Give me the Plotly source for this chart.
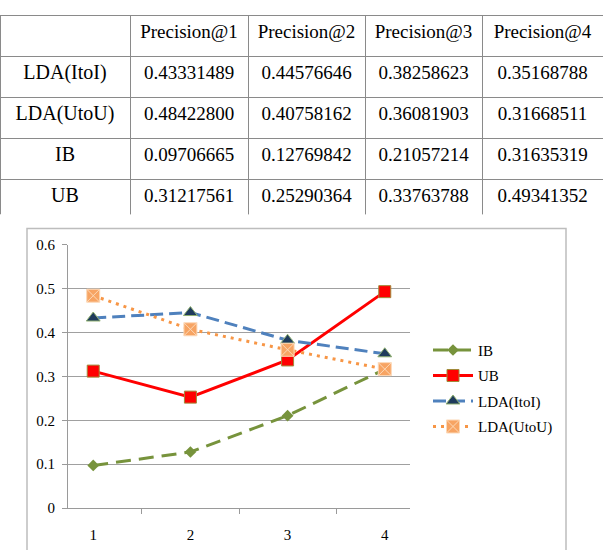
import plotly.graph_objects as go

# ---------------- data ----------------
columns = ["Precision@1", "Precision@2", "Precision@3", "Precision@4"]
x_labels = ["1", "2", "3", "4"]
lda_itoi = [0.43331489, 0.44576646, 0.38258623, 0.35168788]
lda_utou = [0.48422800, 0.40758162, 0.36081903, 0.31668511]
ib = [0.09706665, 0.12769842, 0.21057214, 0.31635319]
ub = [0.31217561, 0.25290364, 0.33763788, 0.49341352]
row_names = ["LDA(ItoI)", "LDA(UtoU)", "IB", "UB"]
y_ticks = [0, 0.1, 0.2, 0.3, 0.4, 0.5, 0.6]

W, H = 603, 550
def px(x):
    return x / W
def py(y):
    return 1 - y / H

FONT = "Liberation Serif, Times New Roman, serif"

rows = [lda_itoi, lda_utou, ib, ub]
cell_cols = [row_names] + [["%.8f" % r[i] for r in rows] for i in range(4)]

fig = go.Figure()

fig.add_trace(go.Table(
    domain=dict(x=[0, 1], y=[py(213), py(7.5)]),
    columnwidth=[130, 118, 117, 117, 121],
    header=dict(values=[""] + columns, height=41, align="center",
                line=dict(color="#8a8a8a", width=1), fill=dict(color="white"),
                font=dict(family=FONT, size=19, color="black")),
    cells=dict(values=cell_cols, height=41, align="center",
               line=dict(color="#8a8a8a", width=1), fill=dict(color="white"),
               font=dict(family=FONT, size=[20, 19, 19, 19, 19], color="black")),
))

traces = [
    dict(y=ib, name="IB",
         line=dict(color="#77933C", width=3, dash="15px,8px"),
         marker=dict(symbol="diamond", size=9, color="#77933C")),
    dict(y=ub, name="UB",
         line=dict(color="#FF0000", width=3),
         marker=dict(symbol="square", size=12, color="#FF0000",
                     line=dict(color="#A08A3A", width=1))),
    dict(y=lda_itoi, name="LDA(ItoI)",
         line=dict(color="#4F81BD", width=3, dash="13px,6px"),
         marker=dict(symbol="triangle-up", size=12, color="#1F3B5C",
                     line=dict(color="#8FB070", width=1))),
    dict(y=lda_utou, name="LDA(UtoU)",
         line=dict(color="#F79646", width=3, dash="3px,5px"),
         marker=dict(symbol="square-x", size=13, color="#F7A463",
                     line=dict(color="#FCD9B8", width=1))),
]
for t in traces:
    fig.add_trace(go.Scatter(x=x_labels, mode="lines+markers",
                             legendgroup=t["name"], **t))

fig.update_layout(
    width=W, height=H,
    margin=dict(l=0, r=0, t=0, b=0),
    paper_bgcolor="white", plot_bgcolor="white",
    font=dict(family=FONT, size=15, color="black"),
    showlegend=True,
    legend=dict(x=px(428), y=py(335.5), xanchor="left", yanchor="top",
                font=dict(family=FONT, size=15, color="black"),
                bgcolor="rgba(0,0,0,0)", itemwidth=40, tracegroupgap=3),
    xaxis=dict(domain=[px(68), px(410)], type="category",
               categoryorder="array", categoryarray=x_labels,
               tickson="boundaries", ticks="outside", ticklen=5,
               tickcolor="#9a9a9a", showline=True, linecolor="#9a9a9a",
               linewidth=1, showgrid=False, zeroline=False,
               ticklabelstandoff=13,
               tickfont=dict(family=FONT, size=15, color="black")),
    yaxis=dict(domain=[py(515), py(244)], range=[0, 0.6],
               tickvals=y_ticks, ticktext=["0", "0.1", "0.2", "0.3", "0.4", "0.5", "0.6"],
               ticks="outside", ticklen=5, tickcolor="#9a9a9a",
               showline=True, linecolor="#9a9a9a", linewidth=1,
               showgrid=True, gridcolor="#a0a0a0", gridwidth=1,
               zeroline=False, ticklabelstandoff=4,
               tickfont=dict(family=FONT, size=15, color="black")),
    shapes=[dict(type="rect", xref="paper", yref="paper",
                 x0=px(27), x1=px(566), y0=py(560), y1=py(227),
                 line=dict(color="#bdbdbd", width=1.5), layer="below")],
)

fig.write_html("out.html")
